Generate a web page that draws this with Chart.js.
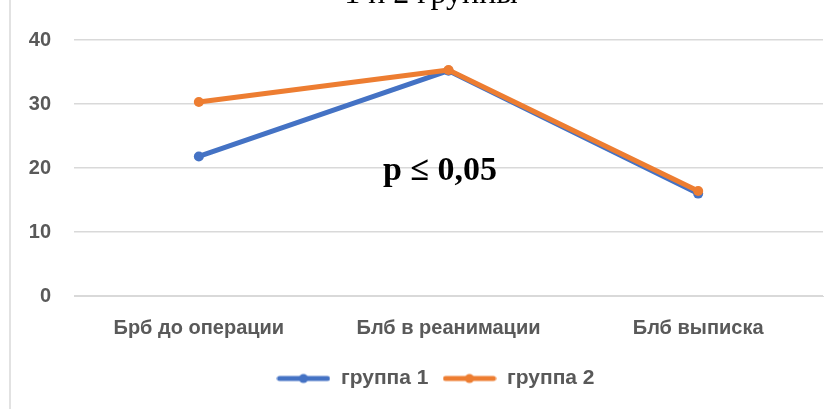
<!DOCTYPE html>
<html>
<head>
<meta charset="utf-8">
<script src="https://cdn.jsdelivr.net/npm/chart.js@4/dist/chart.umd.min.js"></script>
<style>
  html, body { margin: 0; padding: 0; background: #fff; }
  #wrap { position: relative; width: 840px; height: 409px; }
</style>
</head>
<body>
<div id="wrap"><canvas id="c" width="840" height="409"></canvas></div>
<script>
// Categories and series values
const categories = ['Брб до операции', 'Блб в реанимации', 'Блб выписка'];
const group1 = [21.8, 35.2, 16.0];
const group2 = [30.3, 35.3, 16.4];
const seriesNames = ['группа 1', 'группа 2'];
const yTicks = [0, 10, 20, 30, 40];
const titleText = '1 и 2 группы';
const noteText = 'p ≤ 0,05';

const BLUE = '#4472C4';
const ORANGE = '#ED7D31';
const GRID = '#d9d9d9';
const TEXT = '#595959';
const LABEL_FONT = "'Liberation Sans Narrow', 'Liberation Sans', sans-serif";

// Legend marker: a short line with a dot in the middle
function lineMarker(color) {
  const cv = document.createElement('canvas');
  cv.width = 54; cv.height = 12;
  const g = cv.getContext('2d');
  g.strokeStyle = color; g.lineWidth = 5; g.lineCap = 'round';
  g.beginPath(); g.moveTo(3, 6); g.lineTo(51, 6); g.stroke();
  g.fillStyle = color;
  g.beginPath(); g.arc(27, 6, 4.5, 0, Math.PI * 2); g.fill();
  return cv;
}

// Frame line, clipped title and the significance note; legend centred under the plot
const decorations = {
  id: 'decorations',
  afterLayout(chart) {
    const lg = chart.legend;
    if (lg) { lg.left = chart.chartArea.left - 26; lg.right = chart.chartArea.right; }
  },
  beforeDraw(chart) {
    const ctx = chart.ctx;
    ctx.save();
    ctx.strokeStyle = GRID; ctx.lineWidth = 1.5;
    ctx.beginPath(); ctx.moveTo(10, 0); ctx.lineTo(10, 409); ctx.stroke();
    ctx.restore();
  },
  afterDraw(chart) {
    const ctx = chart.ctx;
    ctx.save();
    ctx.fillStyle = '#000';
    ctx.textAlign = 'center';
    ctx.textBaseline = 'alphabetic';
    ctx.font = "32px 'Liberation Serif', serif";
    ctx.fillText(titleText, 431, 3);
    ctx.font = "bold 34px 'Liberation Serif', serif";
    ctx.textAlign = 'left';
    ctx.fillText(noteText, 383, 180);
    ctx.restore();
  }
};

new Chart(document.getElementById('c'), {
  type: 'line',
  data: {
    labels: categories,
    datasets: [
      {
        label: seriesNames[0], data: group1, order: 1,
        borderColor: BLUE, backgroundColor: BLUE,
        borderWidth: 5, pointRadius: 5, pointHoverRadius: 5,
        pointStyle: 'circle', pointBorderWidth: 0,
        borderCapStyle: 'round', borderJoinStyle: 'round', tension: 0
      },
      {
        label: seriesNames[1], data: group2, order: 0,
        borderColor: ORANGE, backgroundColor: ORANGE,
        borderWidth: 5, pointRadius: 5, pointHoverRadius: 5,
        pointStyle: 'circle', pointBorderWidth: 0,
        borderCapStyle: 'round', borderJoinStyle: 'round', tension: 0
      }
    ]
  },
  options: {
    responsive: false,
    animation: false,
    events: [],
    layout: { padding: { left: 0, right: 17, top: 40, bottom: 10 } },
    scales: {
      x: {
        offset: true,
        grid: { display: false, offset: true },
        border: { display: true, color: GRID, width: 1 },
        ticks: { color: TEXT, font: { family: LABEL_FONT, size: 20, weight: 'bold' }, padding: 12, maxRotation: 0 },
        afterFit(s) { s.height = 58; }
      },
      y: {
        min: 0, max: 40,
        afterBuildTicks(s) { s.ticks = yTicks.map(v => ({ value: v })); },
        grid: { color: GRID, lineWidth: 1.5, drawTicks: false },
        border: { display: false },
        ticks: { color: TEXT, font: { family: LABEL_FONT, size: 20, weight: 'bold' }, padding: 23 },
        afterFit(s) { s.width = 74; }
      }
    },
    plugins: {
      title: { display: false },
      tooltip: { enabled: false },
      legend: {
        position: 'bottom',
        labels: {
          color: TEXT,
          font: { family: LABEL_FONT, size: 21, weight: 'bold' },
          usePointStyle: true,
          pointStyleWidth: 54,
          padding: 14,
          generateLabels(chart) {
            return chart.data.datasets.map((d, i) => ({
              text: d.label,
              pointStyle: lineMarker(d.borderColor),
              fillStyle: d.borderColor,
              strokeStyle: d.borderColor,
              lineWidth: 0,
              fontColor: TEXT,
              hidden: false,
              datasetIndex: i
            }));
          }
        }
      }
    }
  },
  plugins: [decorations]
});
</script>
</body>
</html>
